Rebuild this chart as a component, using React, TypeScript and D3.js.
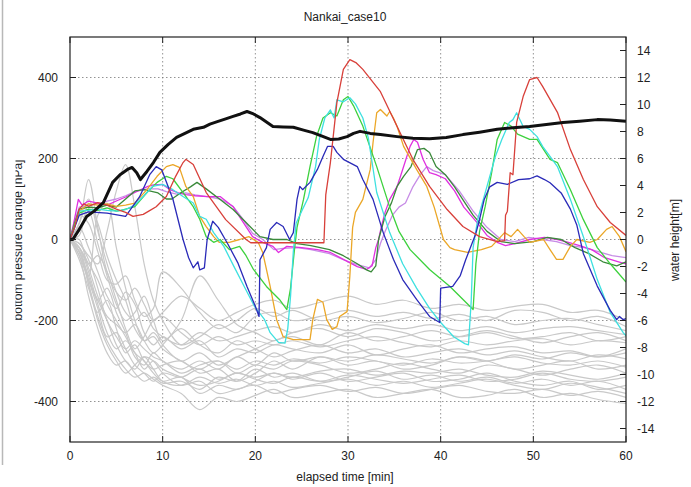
import React from "react";
import * as d3 from "d3";

const W = 691;
const H = 487;
const TITLE = "Nankai_case10";
const X_LABEL = "elapsed time [min]";
const Y_LABEL = "bottom pressure change [hPa]";
const Y2_LABEL = "water height[m]";
const X_TICKS = [0, 10, 20, 30, 40, 50, 60];
const Y_TICKS = [-400, -200, 0, 200, 400];
const Y2_TICKS = [-14, -12, -10, -8, -6, -4, -2, 0, 2, 4, 6, 8, 10, 12, 14];

type P = [number, number];

const BLACK: P[] = [[0,0],[0.3,0],[1,25],[1.8,57],[2.6,70],[3.6,91],[4.6,141],[5.4,160],[6.2,173],[6.7,178],[7.2,165],[7.6,148],[8.3,168],[9,190],[9.7,215],[10.6,235],[11.5,252],[12.4,262],[13.3,272],[14.4,277],[15.1,285],[15.9,291],[16.8,298],[17.6,304],[18.4,310],[19.1,316],[19.8,310],[20.5,301],[21.2,290],[21.9,279],[23,278],[24.1,277],[25.2,270],[26.2,264],[27.2,255],[28.1,247],[29,248],[29.9,254],[30.6,262],[31.3,267],[32.4,262],[33.5,259],[35.3,254],[37,250],[38.8,249],[40.6,252],[42.4,259],[44.2,265],[46.1,272],[47.8,276],[49.6,279],[51.4,284],[53.2,289],[55,292],[56.9,296],[58.3,295],[60,292]];

const RED: P[] = [[0,0],[0.5,30],[1,75],[1.5,88],[2,82],[3,91],[4,85],[5,75],[6,67],[6.8,57],[7.9,62],[8.5,70],[9.3,81],[10.4,106],[11.4,156],[12.2,190],[12.5,198],[13.3,185],[14.7,116],[16.8,49],[19,0],[19.5,-8],[27.4,-8],[27.6,110],[28.1,190],[28.8,338],[29.5,420],[30.2,444],[30.9,436],[31.6,420],[33.5,365],[35.3,279],[37,198],[38.8,131],[40.7,74],[42.4,32],[44.2,7],[46.1,-5],[46.9,-3],[47,60],[47.2,70],[47.5,165],[47.8,160],[48.2,289],[48.9,353],[49.6,395],[50.4,400],[51,378],[52.6,314],[54,222],[55.4,148],[56.9,81],[58.3,42],[60,10]];

const BLUE: P[] = [[0,0],[0.5,30],[1,60],[2,68],[4,65],[6,57],[7.5,105],[8.6,160],[9.3,180],[9.9,172],[11.1,100],[12.2,0],[12.8,-45],[13.3,-70],[13.8,-55],[14,-75],[14.5,-70],[14.8,0],[15.4,45],[16,30],[17,-10],[18.1,-57],[19.1,-116],[20,-165],[20.4,-190],[20.5,-50],[21.2,-20],[21.6,25],[22.3,42],[23,32],[23.7,0],[24.1,17],[24.5,99],[24.8,131],[25.1,123],[25.9,141],[26.7,173],[27.3,205],[27.8,230],[28.4,230],[28.8,215],[29.5,198],[31,180],[31.6,148],[32.7,99],[33.8,17],[34.9,-49],[35.9,-99],[37.4,-148],[38.8,-190],[39.9,-205],[40,-120],[41.3,-116],[42.1,-90],[42.7,-50],[43.8,15],[44.2,50],[44.7,99],[45.3,130],[46.1,141],[47.2,136],[48.4,148],[49.6,150],[50.4,157],[51.2,148],[51.8,140],[53,115],[54,75],[54.7,35],[55.4,-35],[56.9,-115],[58.3,-175],[59,-198],[59.3,-190],[59.7,-198],[60,-195]];

const CYAN: P[] = [[0,0],[0.5,30],[1,70],[2,72],[3,75],[4,72],[5,70],[6,74],[7,85],[7.9,106],[8.9,131],[10,136],[11.1,123],[12.2,106],[13.3,90],[14,57],[14.7,50],[15.5,17],[16.6,-17],[17.7,-67],[18.8,-116],[19.9,-165],[21,-198],[21.6,-230],[22.5,-254],[23.2,-256],[23.5,-220],[23.8,-140],[24.1,-30],[24.4,40],[25,70],[25.7,103],[26.5,180],[26.9,247],[27.5,300],[28.1,320],[28.5,300],[28.8,345],[29.5,340],[30.2,350],[30.8,335],[31.6,300],[32.2,250],[33.1,116],[34.5,17],[35.9,-60],[37.4,-120],[38.8,-170],[40,-205],[41.4,-240],[42.6,-257],[43,-260],[43.3,-150],[43.5,-20],[44,50],[44.9,123],[45.9,205],[46.6,247],[47.4,289],[47.8,296],[48.2,313],[48.9,279],[49.6,272],[50.4,254],[51,230],[51.8,205],[52.6,180],[54,99],[55.4,7],[56.1,-42],[56.9,-99],[58.3,-180],[59.7,-230],[60,-238]];

const GREEN: P[] = [[0,0],[0.5,35],[1,65],[2,75],[3,72],[4,78],[5,70],[5.5,72],[7,81],[8.3,116],[9.4,141],[10.4,156],[11.1,150],[12.2,116],[13.3,81],[14,50],[14.7,7],[15.5,-7],[16.2,0],[17.2,-25],[18.3,-17],[19,-40],[19.8,-74],[21.2,-116],[22.6,-148],[23.4,-173],[23.8,-120],[24.2,-30],[24.5,30],[25.2,99],[25.9,180],[26.6,254],[27.3,300],[28.1,313],[28.8,305],[29.5,345],[30,353],[30.6,330],[31.6,280],[33.1,180],[34.5,80],[35.5,20],[36.7,-25],[38.8,-74],[41,-116],[43.5,-173],[43.8,-60],[44.2,20],[44.8,81],[45.5,165],[46.1,247],[46.9,289],[47.6,280],[48.3,260],[49.6,247],[50.4,247],[51.8,198],[52.6,190],[54,123],[55.4,49],[56.9,-20],[58.3,-60],[60,-105]];

const ORANGE: P[] = [[0,0],[0.5,35],[1,70],[2,88],[3,85],[4,88],[5,82],[6,85],[7,90],[8.3,123],[9.4,156],[10.4,180],[11.1,185],[11.8,178],[12.5,131],[13.3,106],[14,57],[14.7,32],[15.5,7],[16.1,-7],[17.2,-7],[18.3,0],[19.3,7],[20.3,-7],[20.8,-32],[21.6,-116],[22.3,-198],[23,-240],[24.1,-247],[25.9,-247],[26.2,-198],[26.7,-148],[27.3,-155],[27.7,-198],[28.3,-222],[28.8,-215],[29.1,-190],[29.9,-178],[30.2,-90],[30.5,30],[30.8,67],[31.6,99],[32.4,173],[32.7,239],[33.1,313],[33.5,321],[34.2,305],[34.5,316],[34.9,300],[35.3,279],[36,230],[37.4,173],[38.5,131],[39.3,80],[40.3,0],[41,-20],[41.5,-25],[42.9,-32],[44.4,-25],[45.5,-17],[46.9,17],[47.6,7],[48.3,25],[49,7],[49.6,-7],[51.1,0],[51.8,-25],[52.5,-49],[53.2,-49],[54,-17],[54.7,0],[56.1,-7],[56.9,0],[57.9,25],[58.5,32],[59.3,7],[60,-30]];

const MAGENTA: P[] = [[0,0],[0.4,40],[0.9,99],[1.3,85],[2,95],[3,90],[4,85],[5,95],[6,105],[7,116],[8.4,131],[9,135],[10,136],[10.8,123],[11.7,115],[12.5,111],[13.5,108],[14.8,106],[16.2,106],[17.6,81],[18.5,49],[19.7,7],[20.8,-7],[21.9,-17],[22.5,-32],[23.4,-17],[25,-20],[26.7,-25],[28.1,-32],[29.5,-49],[31,-67],[32,-74],[32.6,-65],[33,-20],[33.3,0],[33.6,32],[34,67],[34.5,99],[35.3,131],[35.9,173],[36.7,230],[37.1,247],[37.5,240],[38.1,198],[38.8,165],[39.5,160],[40.5,150],[41.5,120],[42.5,80],[44,40],[45,10],[46.1,-7],[47,-15],[48,-10],[49.6,0],[51.2,5],[52.6,0],[53.5,-5],[55,-15],[56.3,-25],[57.7,-45],[59.2,-55],[60,-60]];

const VIOLET: P[] = [[0,0],[0.5,45],[1,80],[2,85],[3,88],[4,95],[5,100],[6,108],[7,118],[8.4,125],[9.5,125],[10.4,118],[11.5,112],[12.5,115],[13.5,110],[15,105],[16.2,100],[17.6,82],[18.5,55],[19.7,15],[20.8,0],[22,-25],[23,-22],[24.5,-20],[26,-25],[28,-35],[29.5,-50],[31,-62],[32.3,-70],[33,-50],[33.5,-10],[34,20],[34.8,60],[35.5,80],[36.2,90],[37,130],[37.8,160],[38.5,180],[39.2,170],[40.5,160],[42,120],[43.5,70],[45,30],[46.5,0],[48,-5],[49.5,5],[51,0],[52.5,-5],[54,-15],[55.5,-20],[57,-30],[58.5,-40],[60,-45]];

const DKGREEN: P[] = [[0,0],[0.5,40],[1,75],[2,80],[3,78],[4,85],[5,80],[6,100],[7,120],[8,123],[9.5,115],[10.4,100],[11,100],[12,116],[13,130],[13.7,141],[14.7,125],[16.2,99],[17.6,74],[19,42],[20.5,7],[21.9,0],[23.4,0],[24.5,-10],[26,-15],[28,-25],[29.5,-40],[31,-60],[32,-75],[32.5,-80],[33,-65],[33.3,0],[34,57],[34.7,91],[35.3,131],[36,156],[36.8,180],[37.5,222],[38.2,225],[38.8,215],[39.5,180],[40.5,160],[41.5,130],[42.5,95],[43.5,60],[45,20],[46.5,-5],[48,-10],[50,-5],[51.5,5],[53,0],[54.5,-20],[56,-35],[57.5,-55],[59,-65],[60,-55]];

const GRAY_T = [0,1,2,3,4,5,6,7,8,9,10,12,14,16,18,20,22,24,27,30,33,36,39,42,45,48,51,54,57,60];
const GRAY: number[][] = [
  [0,40,148,30,-80,-130,-150,-120,-160,-200,-180,-140,-170,-200,-180,-160,-150,-170,-155,-140,-160,-150,-170,-160,-175,-165,-160,-180,-175,-200],
  [0,-10,-40,-60,20,120,185,80,-60,-150,-200,-260,-240,-210,-230,-190,-180,-200,-190,-175,-190,-180,-195,-185,-200,-175,-180,-200,-190,-215],
  [0,-30,-90,60,90,-20,-120,-200,-250,-230,-260,-300,-280,-310,-290,-270,-250,-240,-260,-230,-250,-240,-225,-240,-230,-245,-240,-230,-250,-240],
  [0,-50,-120,-180,-150,-220,-280,-260,-300,-320,-310,-300,-330,-320,-350,-330,-300,-320,-290,-310,-300,-320,-310,-290,-300,-320,-310,-300,-320,-310],
  [0,-20,-60,-100,-160,-200,-240,-280,-300,-330,-350,-340,-380,-360,-370,-350,-330,-345,-330,-350,-340,-330,-350,-345,-330,-350,-360,-350,-370,-360],
  [0,30,-20,-80,-140,-170,-130,-160,-230,-260,-240,-270,-250,-290,-270,-280,-260,-270,-280,-260,-285,-270,-260,-280,-270,-265,-280,-275,-290,-280],
  [0,-40,-100,-150,-200,-260,-300,-320,-290,-300,-330,-360,-350,-380,-370,-360,-380,-370,-360,-375,-365,-380,-370,-360,-375,-380,-370,-385,-375,-390],
  [0,10,90,40,-40,-100,-150,-220,-250,-240,-270,-300,-320,-300,-330,-310,-320,-300,-310,-330,-320,-305,-320,-330,-310,-320,-335,-320,-310,-330],
  [0,-20,-70,-140,-190,-210,-230,-210,-250,-280,-260,-200,-90,-150,-210,-230,-250,-230,-220,-240,-220,-230,-250,-240,-225,-240,-255,-240,-230,-250],
  [0,-30,-110,-190,-250,-290,-320,-340,-330,-345,-360,-380,-420,-390,-400,-385,-370,-390,-380,-370,-390,-380,-370,-390,-385,-370,-390,-380,-395,-405],
  [0,20,70,-10,-90,-160,-200,-180,-140,-200,-250,-220,-260,-280,-250,-270,-290,-275,-260,-280,-270,-290,-280,-270,-285,-275,-290,-300,-285,-295],
  [0,-40,-140,-220,-280,-310,-300,-330,-350,-340,-355,-350,-370,-340,-350,-320,-340,-330,-350,-340,-325,-345,-335,-350,-340,-355,-345,-360,-350,-370],
  [0,60,40,-30,-100,-110,-90,-150,-190,-170,-80,-120,-180,-220,-200,-170,-190,-175,-200,-190,-205,-195,-180,-200,-190,-210,-200,-195,-210,-225],
  [0,-10,-50,-120,-200,-240,-270,-250,-270,-290,-300,-330,-310,-300,-320,-300,-310,-295,-305,-290,-300,-310,-295,-305,-300,-290,-305,-310,-300,-315],
  [0,-20,-80,-160,-230,-270,-250,-280,-320,-300,-320,-340,-360,-350,-330,-345,-355,-340,-350,-335,-345,-355,-345,-335,-350,-345,-330,-345,-350,-340],
  [0,40,100,20,-60,-130,-180,-200,-180,-220,-240,-260,-230,-250,-240,-225,-215,-230,-210,-225,-210,-220,-210,-225,-215,-230,-220,-215,-225,-235],
  [0,-30,-90,-150,-120,-180,-230,-290,-310,-280,-300,-320,-300,-320,-290,-310,-280,-300,-290,-300,-285,-295,-305,-290,-300,-285,-295,-280,-290,-270],
  [0,-20,-110,-200,-260,-300,-330,-310,-290,-320,-350,-360,-340,-355,-345,-360,-350,-365,-355,-345,-360,-350,-365,-355,-345,-360,-370,-355,-365,-380],
  [0,0,-60,-40,-80,-150,-220,-270,-240,-200,-190,-230,-260,-240,-260,-250,-260,-250,-265,-250,-240,-255,-265,-250,-260,-250,-245,-260,-250,-255],
  [0,-30,-100,-170,-240,-230,-270,-310,-330,-350,-330,-340,-320,-345,-330,-340,-330,-340,-325,-320,-335,-325,-330,-320,-335,-340,-325,-335,-345,-330]
];

const SERIES: { data: P[]; color: string; width: number }[] = [
  { data: VIOLET, color: "#c78ce6", width: 1.3 },
  { data: MAGENTA, color: "#e030e0", width: 1.3 },
  { data: DKGREEN, color: "#3a8a3a", width: 1.3 },
  { data: ORANGE, color: "#eba728", width: 1.3 },
  { data: GREEN, color: "#3dd13d", width: 1.3 },
  { data: CYAN, color: "#3ee0e0", width: 1.3 },
  { data: BLUE, color: "#2a2ab8", width: 1.3 },
  { data: RED, color: "#d8403a", width: 1.3 },
];

const X0 = 70, X1 = 626, Y0 = 37, Y1 = 442;

export default function App() {
  const x = d3.scaleLinear().domain([0, 60]).range([X0, X1]);
  const y = d3.scaleLinear().domain([-500, 500]).range([Y1, Y0]);
  const y2 = d3.scaleLinear().domain([-15, 15]).range([Y1, Y0]);
  const lin = d3.line<P>().x((d) => x(d[0])).y((d) => y(d[1]));
  const smooth = d3
    .line<number>()
    .x((_, i) => x(GRAY_T[i]))
    .y((d) => y(d))
    .curve(d3.curveCatmullRom.alpha(0.5));
  const font = "'Liberation Sans', Arial, sans-serif";
  return (
    <div style={{ position: "absolute", left: 0, top: 0 }}>
      <svg width={W} height={H} style={{ display: "block", background: "#fff" }} fontFamily={font}>
        <rect x={0} y={0} width={W} height={H} fill="#fff" />
        <line x1={2.5} x2={2.5} y1={0} y2={465} stroke="#b8b8b8" strokeWidth={1.5} />
        <defs>
          <clipPath id="plotclip">
            <rect x={X0} y={Y0} width={X1 - X0} height={Y1 - Y0} />
          </clipPath>
          <clipPath id="ylabclip">
            <rect x={15.5} y={0} width={40} height={H} />
          </clipPath>
        </defs>
        {X_TICKS.filter((t) => t > 0 && t < 60).map((t) => (
          <line key={"gx" + t} x1={x(t)} x2={x(t)} y1={Y0} y2={Y1} stroke="#777" strokeWidth={0.8} strokeDasharray="1.5,2.5" />
        ))}
        {Y_TICKS.map((t) => (
          <line key={"gy" + t} x1={X0} x2={X1} y1={y(t)} y2={y(t)} stroke="#777" strokeWidth={0.8} strokeDasharray="1.5,2.5" />
        ))}
        <g clipPath="url(#plotclip)">
          {GRAY.map((s, i) => (
            <path key={"g" + i} d={smooth(s) || ""} fill="none" stroke="#c9c9c9" strokeWidth={1.2} />
          ))}
          {SERIES.map((s, i) => (
            <path key={"s" + i} d={lin(s.data) || ""} fill="none" stroke={s.color} strokeWidth={s.width} strokeLinejoin="round" />
          ))}
          <path d={lin(BLACK) || ""} fill="none" stroke="#111" strokeWidth={3} strokeLinejoin="round" />
        </g>
        <rect x={X0} y={Y0} width={X1 - X0} height={Y1 - Y0} fill="none" stroke="#222" strokeWidth={1.2} />
        {X_TICKS.map((t) => (
          <g key={"tx" + t}>
            <line x1={x(t)} x2={x(t)} y1={Y1} y2={Y1 - 6} stroke="#222" />
            <line x1={x(t)} x2={x(t)} y1={Y0} y2={Y0 + 6} stroke="#222" />
            <text x={x(t)} y={460} textAnchor="middle" fontSize={12} fill="#222">{t}</text>
          </g>
        ))}
        {Y_TICKS.map((t) => (
          <g key={"ty" + t}>
            <line x1={X0} x2={X0 + 6} y1={y(t)} y2={y(t)} stroke="#222" />
            <text x={58} y={y(t) + 4} textAnchor="end" fontSize={12} fill="#222">{t}</text>
          </g>
        ))}
        {Y2_TICKS.map((t) => (
          <g key={"ty2" + t}>
            <line x1={X1} x2={X1 - 6} y1={y2(t)} y2={y2(t)} stroke="#222" />
            <text x={637} y={y2(t) + 4} textAnchor="start" fontSize={12} fill="#222">{t}</text>
          </g>
        ))}
        <text x={345} y={21} textAnchor="middle" fontSize={12} fill="#222">{TITLE}</text>
        <text x={345} y={481} textAnchor="middle" fontSize={12} fill="#222">{X_LABEL}</text>
        <text transform="translate(679,240) rotate(-90)" textAnchor="middle" fontSize={12} fill="#222">{Y2_LABEL}</text>
        <g clipPath="url(#ylabclip)">
          <text transform="translate(22,240) rotate(-90)" textAnchor="middle" fontSize={12} fill="#222">{Y_LABEL}</text>
        </g>
      </svg>
    </div>
  );
}
